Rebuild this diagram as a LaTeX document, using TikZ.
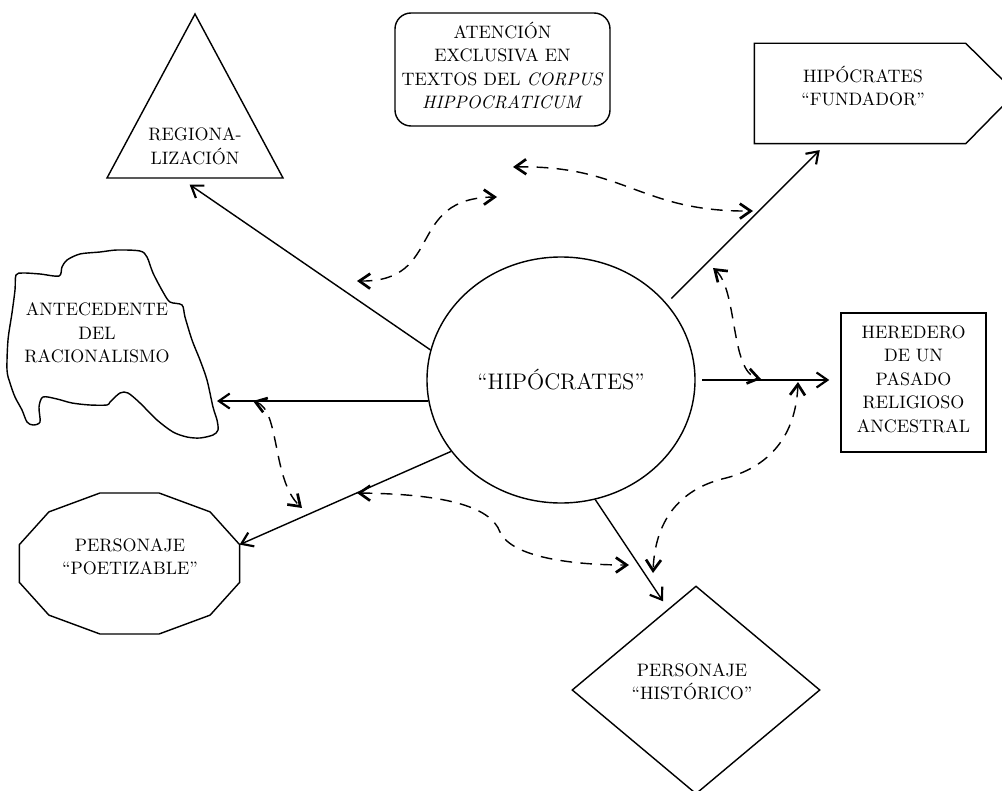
\documentclass[tikz,border=0pt]{standalone}
\usetikzlibrary{arrows.meta,shapes.geometric,calc}

\begin{document}
\begin{tikzpicture}[x=0.6pt,y=-0.6pt,line width=0.85pt,
  txt/.style={font=\fontsize{10.8}{14.1}\selectfont,align=center,inner sep=0pt},
  link/.style={-{Straight Barb[length=6.5pt,width=9pt,line width=1.3pt]}},
  dlink/.style={{Straight Barb[length=6.5pt,width=9pt,line width=1.6pt]}-{Straight Barb[length=6.5pt,width=9pt,line width=1.6pt]},dash pattern=on 7pt off 5pt}]
\useasboundingbox (0,0) rectangle (1002,791);

\node[ellipse,draw,minimum width=160.8pt,minimum height=147.6pt,inner sep=0pt,
  font=\fontsize{13.5}{16}\selectfont] (hip) at (561,380) {“HIPÓCRATES”};

\draw (195,14) -- (283,178) -- (107,178) -- cycle;
\node[txt] (reg) at (195,146.5) {REGIONA-\\LIZACIÓN};
\coordinate (regB) at (180,178);

\node[draw,rounded corners=9.6pt,minimum width=129pt,minimum height=67.8pt] (ate) at (502.5,69.5) {};
\node[txt] (ateT) at (502.5,65.5) {ATENCIÓN\\EXCLUSIVA EN\\TEXTOS DEL \textit{CORPUS}\\\textit{HIPPOCRATICUM}};

\node[minimum width=126pt,minimum height=59.4pt,inner sep=0pt] (fun) at (860,93.5) {};
\draw (fun.north west) -- (fun.north east) -- ++(50,49.5) -- (fun.south east) -- (fun.south west) -- cycle;
\node[txt] (funT) at (863,86) {HIPÓCRATES\\“FUNDADOR”};

\node[draw,minimum width=87pt,minimum height=83.4pt] (her) at (913.5,382.5) {};
\node[txt] (herT) at (913.5,379) {HEREDERO\\DE UN\\PASADO\\RELIGIOSO\\ANCESTRAL};

\draw plot[smooth cycle,tension=0.5] coordinates {(16,275) (23,273) (40,274) (59,276) (62,267) (67,260)
  (80,254) (100,252) (117,250) (140,251) (147,257) (153,273) (163,292) (170,302) (182,305) (185,317)
  (192,340) (200,360) (207,380) (213,407) (217,420) (218,430) (213,435) (200,438) (187,437) (173,432)
  (157,420) (140,403) (128,393) (120,393) (110,402) (107,405) (90,405) (72,403) (57,399) (43,397)
  (39,407) (40,422) (33,425) (27,422) (22,410) (15,397) (10,383) (7,370) (8,340) (12,313) (15,290)};
\node[txt] (ant) at (97,333) {ANTECEDENTE\\DEL\\RACIONALISMO};
\coordinate (antR) at (217,401);

\coordinate (poeC) at (129.5,563.5);
\draw[shift={(poeC)}] (15:114 and 73) foreach \a in {45,75,...,345}{ -- (\a:114 and 73)} -- cycle;
\coordinate (poeV) at ($(poeC)+(-15:114 and 73)$);
\node[txt] (poe) at (130,556.5) {PERSONAJE\\“POETIZABLE”};

\node[diamond,draw,minimum width=148.8pt,minimum height=124.8pt,inner sep=0pt] (his) at (696,690) {};
\node[txt] (hisT) at (692,681.5) {PERSONAJE\\“HISTÓRICO”};

\draw[link,shorten >=7pt] (hip.167) -- (regB);
\draw[link] (hip.189) -- (hip.189 -| antR);
\draw[link] (hip.213) -- (poeV);
\draw[link,shorten >=5.4pt] (hip.286) -- (his.109);
\draw[link,shorten <=4pt,shorten >=5.4pt] (hip.36) -- (fun.236);
\draw[link,shorten <=4pt,shorten >=6.6pt] (hip.0) -- (hip.0 -| her.west);

\coordinate (atenL) at (513,167);
\coordinate (funL) at (753,211);
\coordinate (regL) at (357,281);
\coordinate (atenR) at (497,197);
\coordinate (funR) at (713,268);
\coordinate (herL) at (761,379);
\coordinate (herR) at (798,382);
\coordinate (hisR) at (653,573);
\coordinate (antL) at (253,401);
\coordinate (poeR) at (302,508);
\coordinate (poeL) at (357,493);
\coordinate (hisL) at (629,565);

\draw[dlink] (atenL) .. controls (625,165) and (640,212) .. (funL);
\draw[dlink] (regL) .. controls (445,282) and (405,198) .. (atenR);
\draw[dlink] (funR) .. controls (738,290) and (730,372) .. (herL);
\draw[dlink] (herR) .. controls (796,435) and (770,468) .. (722,479) .. controls (680,490) and (655,520) .. (hisR);
\draw[dlink] (antL) .. controls (280,410) and (272,480) .. (poeR);
\draw[dlink] (poeL) .. controls (440,494) and (490,505) .. (500,532) .. controls (512,558) and (575,565) .. (hisL);
\end{tikzpicture}
\end{document}
